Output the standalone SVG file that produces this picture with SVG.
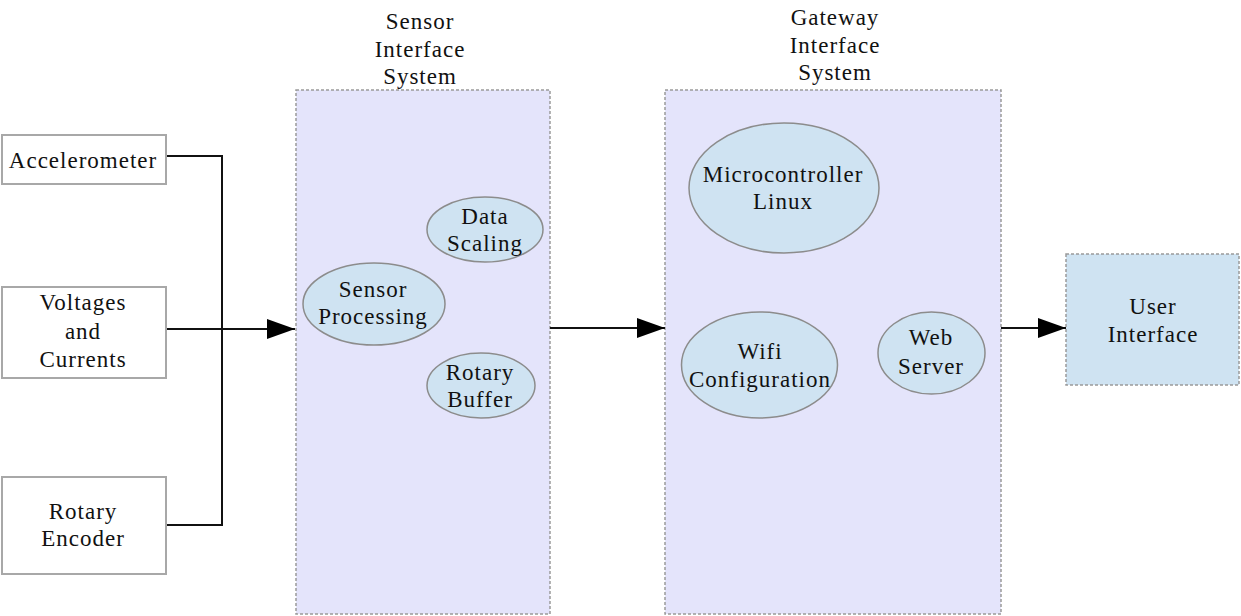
<svg xmlns="http://www.w3.org/2000/svg" width="1241" height="616" viewBox="0 0 1241 616">
  <style>
    text { font-family: "Liberation Serif", "Times New Roman", serif; font-size: 23px; letter-spacing: 1px; fill: #111; text-anchor: middle; }
    .src { fill: #fff; stroke: #a8a8a8; stroke-width: 2; }
    .sys { fill: #e4e4fb; stroke: #9a9a9a; stroke-width: 1.5; stroke-dasharray: 3 2; }
    .ui { fill: #cfe3f2; stroke: #9a9a9a; stroke-width: 1.5; stroke-dasharray: 3 2; }
    .proc { fill: #cfe3f2; stroke: #8c8c8c; stroke-width: 1.5; }
    .wire { fill: none; stroke: #111; stroke-width: 2; }
  </style>
  <defs>
    <marker id="head" markerUnits="userSpaceOnUse" markerWidth="30" markerHeight="22" refX="28" refY="11" orient="auto">
      <path d="M0,1 L28,11 L0,21 Z" fill="#000"/>
    </marker>
  </defs>
  <rect width="1241" height="616" fill="#fff"/>

  <!-- system containers -->
  <g id="sensor-interface-system">
    <rect class="sys" x="296" y="90" width="254" height="524"/>
    <text x="420" y="29">Sensor</text>
    <text x="420" y="57">Interface</text>
    <text x="420" y="84">System</text>
  </g>
  <g id="gateway-interface-system">
    <rect class="sys" x="665" y="90" width="336" height="524"/>
    <text x="835" y="25">Gateway</text>
    <text x="835" y="53">Interface</text>
    <text x="835" y="80">System</text>
  </g>

  <!-- connectors -->
  <g id="connectors">
    <polyline class="wire" points="166,156 222,156 222,525 166,525"/>
    <line class="wire" x1="166" y1="329" x2="295" y2="329" marker-end="url(#head)"/>
    <line class="wire" x1="550" y1="328" x2="665" y2="328" marker-end="url(#head)"/>
    <line class="wire" x1="1001" y1="328" x2="1066" y2="328" marker-end="url(#head)"/>
  </g>

  <!-- sensor inputs -->
  <g id="accelerometer">
    <rect class="src" x="2" y="135" width="164" height="49"/>
    <text x="83" y="168">Accelerometer</text>
  </g>
  <g id="voltages-currents">
    <rect class="src" x="2" y="287" width="164" height="91"/>
    <text x="83" y="310">Voltages</text>
    <text x="83" y="339">and</text>
    <text x="83" y="367">Currents</text>
  </g>
  <g id="rotary-encoder">
    <rect class="src" x="2" y="477" width="164" height="97"/>
    <text x="83" y="519">Rotary</text>
    <text x="83" y="546">Encoder</text>
  </g>

  <!-- sensor interface processes -->
  <g id="data-scaling">
    <ellipse class="proc" cx="485" cy="229.5" rx="58" ry="32.5"/>
    <text x="485" y="224">Data</text>
    <text x="485" y="251">Scaling</text>
  </g>
  <g id="sensor-processing">
    <ellipse class="proc" cx="374" cy="304" rx="71" ry="41"/>
    <text x="373" y="297">Sensor</text>
    <text x="373" y="324">Processing</text>
  </g>
  <g id="rotary-buffer">
    <ellipse class="proc" cx="481" cy="385.5" rx="54" ry="32.5"/>
    <text x="480" y="380">Rotary</text>
    <text x="480" y="407">Buffer</text>
  </g>

  <!-- gateway processes -->
  <g id="microcontroller-linux">
    <ellipse class="proc" cx="784" cy="188" rx="95" ry="65"/>
    <text x="783" y="182">Microcontroller</text>
    <text x="783" y="209">Linux</text>
  </g>
  <g id="wifi-configuration">
    <ellipse class="proc" cx="759.5" cy="365" rx="78" ry="53"/>
    <text x="760" y="359">Wifi</text>
    <text x="760" y="387">Configuration</text>
  </g>
  <g id="web-server">
    <ellipse class="proc" cx="931.5" cy="353" rx="53.5" ry="41"/>
    <text x="931" y="345">Web</text>
    <text x="931" y="374">Server</text>
  </g>

  <!-- output -->
  <g id="user-interface">
    <rect class="ui" x="1066" y="254" width="173" height="131"/>
    <text x="1153" y="314">User</text>
    <text x="1153" y="342">Interface</text>
  </g>
</svg>
